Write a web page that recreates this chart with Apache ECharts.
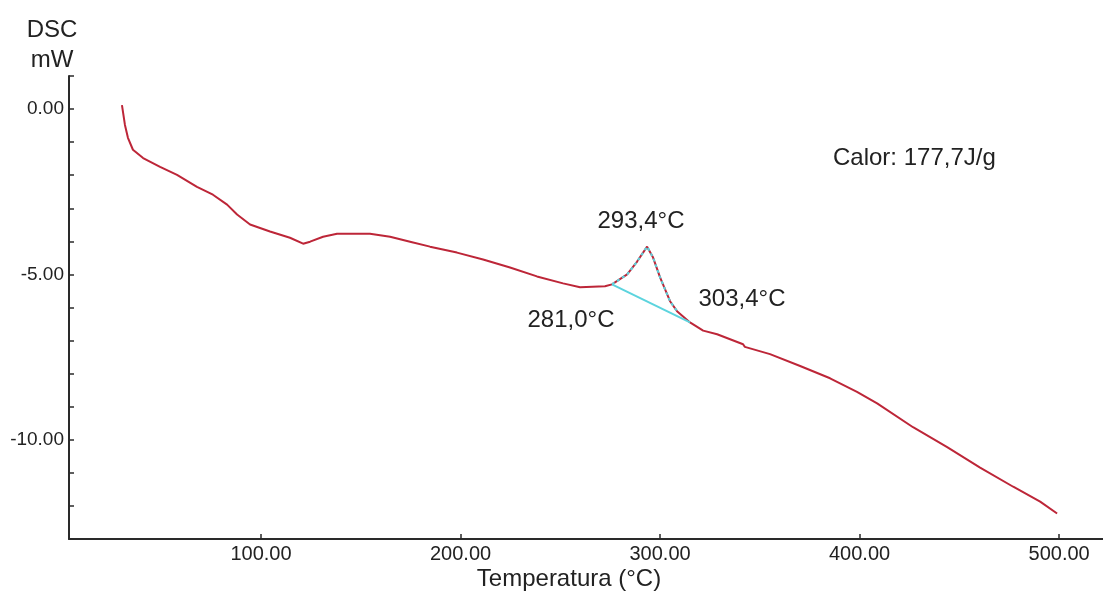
<!DOCTYPE html>
<html>
<head>
<meta charset="utf-8">
<script src="https://cdn.jsdelivr.net/npm/echarts@6/dist/echarts.min.js"></script>
<style>html,body{margin:0;padding:0;background:#fff}#c{width:1103px;height:599px}</style>
</head>
<body>
<div id="c"></div>
<script>
// DSC curve (temperature °C, heat flow mW)
const temperature = [30.3, 30.8, 31.8, 33.3, 35.8, 40.9, 49.4, 57.9, 67.9, 75.9, 83.0, 88.0, 94.5, 104.5, 114.5, 121.1, 124.6, 131.1, 138.1, 154.6, 164.7, 174.7, 184.7, 198.2, 211.3, 224.8, 238.3, 251.4, 259.9, 272.4, 275.9, 283.5, 288.5, 293.5, 296.5, 300.0, 305.0, 308.5, 315.0, 321.6, 328.6, 341.6, 342.5, 343.5, 355.1, 370.2, 385.2, 398.7, 408.8, 426.8, 443.9, 460.4, 477.0, 490.5, 499.0];
const dsc = [0.12, 0.06, -0.48, -0.87, -1.23, -1.48, -1.75, -1.99, -2.35, -2.59, -2.89, -3.19, -3.49, -3.70, -3.89, -4.07, -4.01, -3.86, -3.77, -3.77, -3.86, -4.01, -4.16, -4.34, -4.55, -4.79, -5.06, -5.27, -5.39, -5.36, -5.30, -5.00, -4.61, -4.16, -4.49, -5.09, -5.81, -6.11, -6.45, -6.70, -6.81, -7.11, -7.19, -7.14, -7.41, -7.77, -8.14, -8.55, -8.90, -9.62, -10.22, -10.84, -11.42, -11.87, -12.23];
// peak analysis
const peakT = [275.9, 283.5, 288.5, 293.5, 296.5, 300.0, 305.0, 308.5];
const peakY = [-5.30, -5.00, -4.61, -4.16, -4.49, -5.09, -5.81, -6.11];
const baseT = [275.9, 315.0];
const baseY = [-5.30, -6.45];
const xTicks = [100, 200, 300, 400, 500];
const yLabels = [-10, -5, 0];
const annotations = ['293,4°C', '281,0°C', '303,4°C', 'Calor: 177,7J/g'];
const xName = 'Temperatura (°C)';
const yName = ['DSC', 'mW'];

const zip = (a, b) => a.map((v, i) => [v, b[i]]);
const FF = '"Liberation Sans", Arial, sans-serif';
const chart = echarts.init(document.getElementById('c'), null, {renderer: 'canvas'});
chart.setOption({
  animation: false,
  backgroundColor: '#ffffff',
  grid: {left: 69, top: 76, right: 0, bottom: 60, containLabel: false},
  xAxis: {
    type: 'value', min: 3.76, max: 522,
    axisLine: {show: true, onZero: false, lineStyle: {color: '#2a2a2a', width: 2}},
    axisTick: {show: true, inside: true, length: 5, customValues: xTicks, lineStyle: {color: '#2a2a2a', width: 1.5}},
    axisLabel: {customValues: xTicks, formatter: v => v.toFixed(2), color: '#222', fontFamily: FF, fontSize: 20, margin: 5},
    splitLine: {show: false}
  },
  yAxis: {
    type: 'value', min: -13, max: 1, interval: 1,
    axisLine: {show: true, onZero: false, lineStyle: {color: '#2a2a2a', width: 2}},
    axisTick: {show: true, inside: true, length: 5, lineStyle: {color: '#2a2a2a', width: 1.5}},
    axisLabel: {customValues: yLabels, formatter: v => v.toFixed(2), color: '#222', fontFamily: FF, fontSize: 19, margin: 5},
    splitLine: {show: false}
  },
  series: [
    {type: 'line', data: zip(temperature, dsc), showSymbol: false, smooth: false,
     lineStyle: {color: '#bd2638', width: 2}, z: 2},
    {type: 'line', data: zip(peakT, peakY), showSymbol: false,
     lineStyle: {color: '#5cd4de', width: 2, type: [3, 3]}, z: 3},
    {type: 'line', data: zip(baseT, baseY), showSymbol: false,
     lineStyle: {color: '#5cd4de', width: 2}, z: 3}
  ],
  graphic: [
    {type: 'text', x: 52, y: 30, style: {text: yName[0], fontFamily: FF, fontSize: 24, fill: '#222', align: 'center', verticalAlign: 'middle'}},
    {type: 'text', x: 52, y: 60, style: {text: yName[1], fontFamily: FF, fontSize: 24, fill: '#222', align: 'center', verticalAlign: 'middle'}},
    {type: 'text', x: 569, y: 579, style: {text: xName, fontFamily: FF, fontSize: 24, fill: '#222', align: 'center', verticalAlign: 'middle'}},
    {type: 'text', x: 641, y: 221, style: {text: annotations[0], fontFamily: FF, fontSize: 24, fill: '#222', align: 'center', verticalAlign: 'middle'}},
    {type: 'text', x: 571, y: 320, style: {text: annotations[1], fontFamily: FF, fontSize: 24, fill: '#222', align: 'center', verticalAlign: 'middle'}},
    {type: 'text', x: 742, y: 299, style: {text: annotations[2], fontFamily: FF, fontSize: 24, fill: '#222', align: 'center', verticalAlign: 'middle'}},
    {type: 'text', x: 833, y: 158, style: {text: annotations[3], fontFamily: FF, fontSize: 24, fill: '#222', align: 'left', verticalAlign: 'middle'}}
  ]
});
</script>
</body>
</html>
